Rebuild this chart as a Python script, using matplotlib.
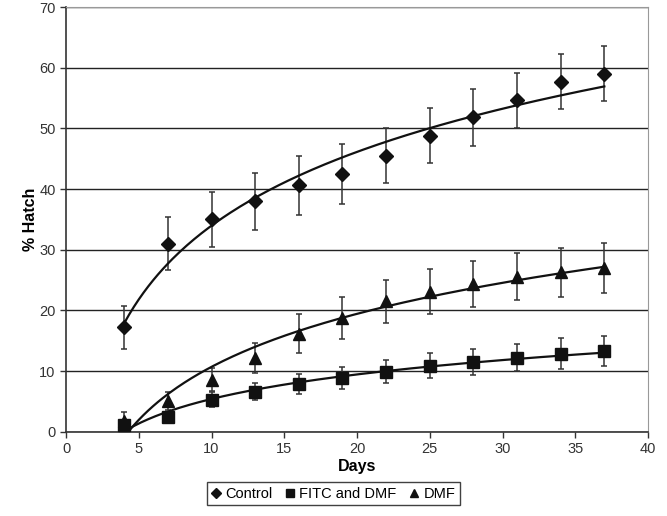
import numpy as np
import matplotlib
matplotlib.use("Agg")
import matplotlib.pyplot as plt

plt.rcParams['font.family'] = ['Liberation Sans', 'DejaVu Sans']

# days sampled
days = [4, 7, 10, 13, 16, 19, 22, 25, 28, 31, 34, 37]

# % hatch, mean and error
control = [17.2, 31.0, 35.0, 38.0, 40.6, 42.5, 45.5, 48.8, 51.8, 54.6, 57.7, 59.0]
control_err = [3.5, 4.4, 4.6, 4.7, 4.8, 4.9, 4.5, 4.5, 4.7, 4.6, 4.5, 4.5]

fitc_dmf = [1.1, 2.5, 5.3, 6.6, 7.9, 8.9, 9.9, 10.9, 11.5, 12.2, 12.9, 13.3]
fitc_dmf_err = [0.5, 0.8, 1.2, 1.4, 1.65, 1.8, 1.9, 2.1, 2.2, 2.2, 2.5, 2.45]

dmf = [1.8, 5.1, 8.6, 12.2, 16.2, 18.8, 21.5, 23.1, 24.3, 25.6, 26.3, 27.0]
dmf_err = [1.4, 1.5, 1.9, 2.5, 3.2, 3.5, 3.6, 3.7, 3.8, 3.9, 4.0, 4.1]

series = [
    ('Control', control, control_err, 'D', 7),
    ('FITC and DMF', fitc_dmf, fitc_dmf_err, 's', 8.5),
    ('DMF', dmf, dmf_err, '^', 9),
]

fig = plt.figure(figsize=(6.67, 5.16), dpi=100)
ax = fig.add_axes([0.099, 0.163, 0.8725, 0.8234])

x = np.array(days, dtype=float)
xs = np.linspace(x.min(), x.max(), 200)
handles = []
for label, vals, err, mk, ms in series:
    # logarithmic trendline, as in the spreadsheet chart
    a, b = np.polyfit(np.log(x), vals, 1)
    ax.plot(xs, a * np.log(xs) + b, color='#111111', lw=1.6, zorder=3)
    ax.errorbar(days, vals, yerr=err, fmt='none', ecolor='#333333',
                elinewidth=1.1, capsize=2.5, capthick=1.1, zorder=2)
    h, = ax.plot(days, vals, linestyle='none', marker=mk, markersize=ms,
                 color='#111111', zorder=4, label=label)
    handles.append(h)

ax.set_xlim(0, 40)
ax.set_ylim(0, 70)
ax.set_xticks(range(0, 41, 5))
ax.set_yticks(range(0, 71, 10))
ax.yaxis.grid(True, color='#222222', lw=1.0)
ax.set_axisbelow(True)

for side in ['top', 'right']:
    ax.spines[side].set_color('#999999')
for side in ['left', 'bottom']:
    ax.spines[side].set_color('#333333')
    ax.spines[side].set_linewidth(1.2)

ax.tick_params(axis='both', direction='out', length=4, width=1,
               labelsize=10.5, color='#333333', labelcolor='#333333')
ax.set_xlabel('Days', fontsize=11.5, fontweight='bold', labelpad=2)
ax.set_ylabel('% Hatch', fontsize=11.5, fontweight='bold', labelpad=1)

leg = fig.legend(handles=handles, loc='center', bbox_to_anchor=(0.5, 0.043),
                 ncol=3, frameon=True, fancybox=False, fontsize=10.5,
                 handlelength=0.6, handletextpad=0.35, columnspacing=0.9,
                 borderpad=0.3, markerscale=0.7)
leg.get_frame().set_edgecolor('#111111')
leg.get_frame().set_linewidth(1.0)

fig.savefig('out.png', dpi=100)
